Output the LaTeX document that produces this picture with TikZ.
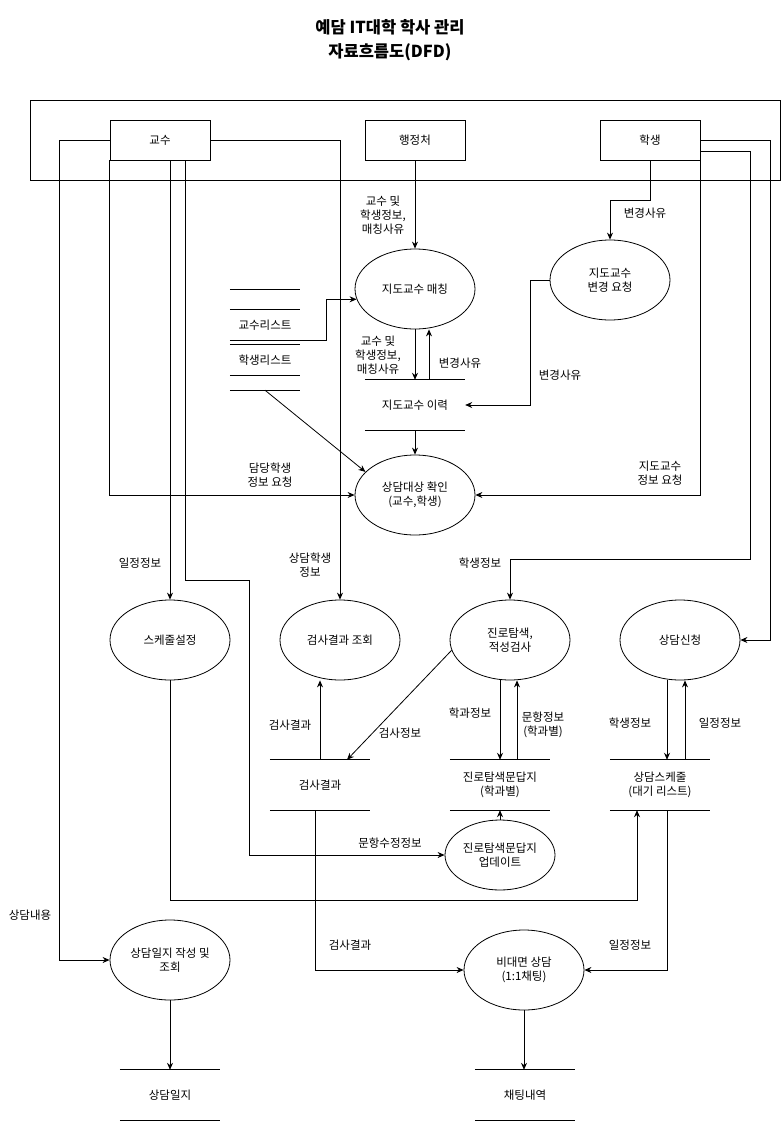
\documentclass[tikz,border=0pt]{standalone}
\usepackage{fontspec}
\setmainfont{Noto Sans CJK KR}
\usetikzlibrary{shapes.geometric,arrows.meta,calc}

% top and bottom rules of a data store
\newcommand\storelines[1]{%
  \draw[line] (#1.north west) -- (#1.north east) (#1.south west) -- (#1.south east);}

\begin{document}
\begin{tikzpicture}[x=1pt,y=-1pt,
  every node/.style={font=\fontsize{11.5}{14}\selectfont, text=black},
  line/.style={line width=0.8pt, draw=black},
  flow/.style={line, -{Stealth[length=7pt,width=6pt]}},
  ent/.style={line, rectangle, minimum width=100pt, minimum height=40pt, inner sep=0pt},
  proc/.style={line, ellipse, minimum width=120pt, minimum height=80pt, inner sep=0pt, align=center},
  store/.style={rectangle, minimum width=100pt, minimum height=50pt, inner sep=0pt, align=center},
  lbl/.style={align=center, inner sep=0pt}]

\fill[white] (0,0) rectangle (781,1121);
\useasboundingbox (0,0) rectangle (781,1121);

% title
\node[lbl, font=\bfseries\fontsize{16.5}{24}\selectfont] (title) at (390,40)
  {예담 IT대학 학사 관리\\자료흐름도(DFD)};

% external entities
\node[line, rectangle, minimum width=750pt, minimum height=80pt, inner sep=0pt] (frame) at (405,140) {};
\node[ent] (prof)  at (160,140) {교수};
\node[ent] (admin) at (415,140) {행정처};
\node[ent] (stud)  at (650,140) {학생};

% processes
\node[proc] (match)  at (415,289) {지도교수 매칭};
\node[proc] (chg)    at (610,280) {지도교수\\변경 요청};
\node[proc] (chk)    at (415,495) {상담대상 확인\\(교수,학생)};
\node[proc] (sched)  at (170,640) {스케줄설정};
\node[proc] (res)    at (340,640) {검사결과 조회};
\node[proc] (career) at (510,640) {진로탐색,\\적성검사};
\node[proc] (apply)  at (680,640) {상담신청};
\node[proc, minimum width=110pt, minimum height=70pt] (upd) at (500,855)
  {\makebox[70pt]{진로탐색문답지}\\업데이트};
\node[proc] (log)    at (170,960) {\makebox[75pt]{상담일지 작성 및}\\조회};
\node[proc] (chat)   at (524,970) {비대면 상담\\(1:1채팅)};

% data stores
\node[store] (hist)  at (415,405) {지도교수 이력};
\node[store] (resS)  at (320,785) {검사결과};
\node[store] (qS)    at (500,785) {진로탐색문답지\\(학과별)};
\node[store] (schS)  at (660,785) {상담스케줄\\(대기 리스트)};
\node[store] (logS)  at (170,1095) {상담일지};
\node[store] (chatS) at (525,1095) {채팅내역};
\node[store, minimum width=70pt, minimum height=30pt] (profL) at (265,325) {교수리스트};
\node[store, minimum width=70pt, minimum height=30pt] (studL) at (265,360) {학생리스트};
\foreach \s in {hist,resS,qS,schS,logS,chatS,profL,studL} {\storelines{\s}}
\draw[line] ($(profL.north west)+(0,-20)$) -- ($(profL.north east)+(0,-20)$);
\draw[line] ($(studL.south west)+(0,15)$) -- ($(studL.south east)+(0,15)$);

% flows from the professor
\draw[flow] (prof.west) -- ++(-50,0) |- (log.west);
\node[lbl] (lbCont) at (30,915) {상담내용};
\draw[flow] (prof.east) -| (res.north);
\node[lbl] (lbStu) at (310,565) {상담학생\\정보};
\draw[flow] (prof.south west) |- (chk.west);
\node[lbl] (lbReq) at (270,475) {담당학생\\정보 요청};
\draw[flow] (prof.south -| sched.north) -- (sched.north);
\node[lbl] (lbSch) at (140,563) {일정정보};
\draw[flow] ($(prof.south)+(25,0)$) |- ($(upd.west)+(-195,-275)$) |- (upd.west);
\node[lbl] (lbMod) at (390,843) {문항수정정보};

% flows from the administration office
\draw[flow] (admin.south) -- (match.north);
\node[lbl] (lbAdm) at (383,215) {교수 및\\학생정보,\\매칭사유};

% matching and its history
\draw[flow] (profL.south east) -| ($(match.190)+(-30,0)$) -- (match.190);
\draw[flow] ($(studL.south)+(0,15)$) -- (chk.155);
\draw[flow] (match.south) -- (hist.north);
\node[lbl] (lbMatch) at (378,355) {교수 및\\학생정보,\\매칭사유};
\coordinate (hu) at ($(hist.north)+(14,0)$);
\draw[flow] (hu) -- (hu |- match.south);
\node[lbl] (lbChg1) at (460,363) {변경사유};
\draw[flow] (hist.south) -- (chk.north);

% flows from the student
\draw[flow] (stud.south) -- ++(0,40) -| (chg.north);
\node[lbl] (lbChg2) at (645,213) {변경사유};
\draw[flow] (chg.west) -- ++(-19,0) |- (hist.east);
\node[lbl] (lbChg3) at (560,375) {변경사유};
\draw[flow] (stud.south east) |- (chk.east);
\node[lbl] (lbAdv) at (660,473) {지도교수\\정보 요청};
\draw[flow] ($(stud.east)+(0,11)$) -| ($(career.north)+(240,-40)$) -| (career.north);
\node[lbl] (lbStInfo) at (480,563) {학생정보};
\draw[flow] (stud.east) -- ++(70,0) |- (apply.east);

% career test
\draw[flow] (career.190) -- ($(resS.north)+(27,0)$);
\node[lbl] (lbTest) at (400,733) {검사정보};
\draw[flow] (resS.north) -- (resS.north |- res.south);
\node[lbl] (lbRes1) at (290,725) {검사결과};
\draw[flow] (qS.north |- career.south) -- (qS.north);
\node[lbl] (lbDept) at (470,713) {학과정보};
\coordinate (qu) at ($(qS.north)+(17,0)$);
\draw[flow] (qu) -- (qu |- career.south);
\node[lbl] (lbQ) at (543,725) {문항정보\\(학과별)};
\draw[flow] (upd.north) -- (qS.south);

% counselling request and schedule
\coordinate (sd) at ($(schS.north)+(7,0)$);
\draw[flow] (sd |- apply.south) -- (sd);
\node[lbl] (lbAp1) at (630,723) {학생정보};
\coordinate (su) at ($(schS.north)+(25,0)$);
\draw[flow] (su) -- (su |- apply.south);
\node[lbl] (lbAp2) at (720,723) {일정정보};
\draw[flow] (sched.south) |- ($(schS.south)+(-23,90)$) -- ($(schS.south)+(-23,0)$);

% online counselling
\draw[flow] ($(schS.south)+(7,0)$) |- (chat.east);
\node[lbl] (lbSch2) at (630,945) {일정정보};
\draw[flow] ($(resS.south)+(-5,0)$) |- (chat.west);
\node[lbl] (lbRes2) at (350,945) {검사결과};

% outputs to the stores
\draw[flow] (log.south) -- (logS.north);
\draw[flow] (chat.south) -- (chat.south |- chatS.north);

\end{tikzpicture}
\end{document}
